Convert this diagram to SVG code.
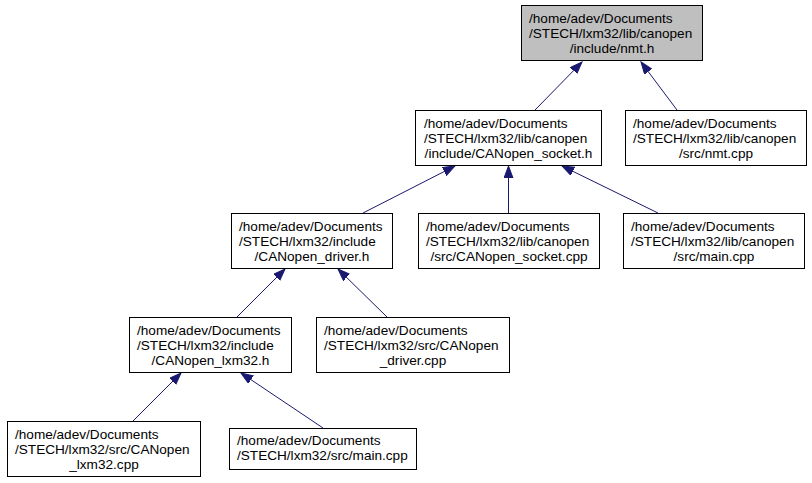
<svg xmlns="http://www.w3.org/2000/svg" width="812" height="483" viewBox="0 0 812 483">
<style>
.box{fill:#ffffff;stroke:#000000;stroke-width:1}
.root{fill:#bfbfbf}
text{font-family:"Liberation Sans",Arial,sans-serif;font-size:13.6px;fill:#000000}
.c{text-anchor:middle}
.edge{stroke:#191970;stroke-width:1;fill:none;marker-end:url(#ah)}
</style>
<defs>
<marker id="ah" markerWidth="13" markerHeight="10" refX="12" refY="4.5" orient="auto" markerUnits="userSpaceOnUse">
<path d="M0,0 L12,4.5 L0,9 z" fill="#191970" stroke="#191970" stroke-width="1"/>
</marker>
</defs>
<rect width="812" height="483" fill="#ffffff"/>
<g id="connectors">
<line class="edge" x1="535" y1="110" x2="582" y2="62"/>
<line class="edge" x1="677" y1="110" x2="641" y2="62"/>
<line class="edge" x1="363" y1="213" x2="455" y2="166"/>
<line class="edge" x1="508.5" y1="213" x2="508.5" y2="166"/>
<line class="edge" x1="658" y1="213" x2="562" y2="166"/>
<line class="edge" x1="237" y1="317" x2="285" y2="269"/>
<line class="edge" x1="387" y1="317" x2="338" y2="269"/>
<line class="edge" x1="133" y1="421" x2="181" y2="373"/>
<line class="edge" x1="323" y1="428" x2="241" y2="373"/>
</g>
<g id="n0">
<rect class="box root" x="521.5" y="5.5" width="181" height="55"/>
<text x="529" y="22.5">/home/adev/Documents</text>
<text x="529" y="37.5">/STECH/lxm32/lib/canopen</text>
<text class="c" x="612" y="52.5">/include/nmt.h</text>
</g>
<g id="n1">
<rect class="box" x="415.5" y="110.5" width="186" height="55"/>
<text x="424" y="127.5">/home/adev/Documents</text>
<text x="424" y="142.5">/STECH/lxm32/lib/canopen</text>
<text class="c" x="508.5" y="157.5">/include/CANopen_socket.h</text>
</g>
<g id="n2">
<rect class="box" x="625.5" y="110.5" width="181" height="55"/>
<text x="633" y="127.5">/home/adev/Documents</text>
<text x="633" y="142.5">/STECH/lxm32/lib/canopen</text>
<text class="c" x="716" y="157.5">/src/nmt.cpp</text>
</g>
<g id="n3">
<rect class="box" x="231.5" y="213.5" width="161" height="55"/>
<text x="239" y="230.5">/home/adev/Documents</text>
<text x="239" y="245.5">/STECH/lxm32/include</text>
<text class="c" x="312" y="260.5">/CANopen_driver.h</text>
</g>
<g id="n4">
<rect class="box" x="418.5" y="213.5" width="181" height="55"/>
<text x="426" y="230.5">/home/adev/Documents</text>
<text x="426" y="245.5">/STECH/lxm32/lib/canopen</text>
<text class="c" x="509" y="260.5">/src/CANopen_socket.cpp</text>
</g>
<g id="n5">
<rect class="box" x="623.5" y="213.5" width="181" height="55"/>
<text x="631" y="230.5">/home/adev/Documents</text>
<text x="631" y="245.5">/STECH/lxm32/lib/canopen</text>
<text class="c" x="714" y="260.5">/src/main.cpp</text>
</g>
<g id="n6">
<rect class="box" x="129.5" y="317.5" width="162" height="55"/>
<text x="137" y="334.5">/home/adev/Documents</text>
<text x="137" y="349.5">/STECH/lxm32/include</text>
<text class="c" x="210.5" y="364.5">/CANopen_lxm32.h</text>
</g>
<g id="n7">
<rect class="box" x="316.5" y="317.5" width="193" height="55"/>
<text x="324" y="334.5">/home/adev/Documents</text>
<text x="324" y="349.5">/STECH/lxm32/src/CANopen</text>
<text class="c" x="413" y="364.5">_driver.cpp</text>
</g>
<g id="n8">
<rect class="box" x="7.5" y="421.5" width="193" height="55"/>
<text x="15" y="438.5">/home/adev/Documents</text>
<text x="15" y="453.5">/STECH/lxm32/src/CANopen</text>
<text class="c" x="104" y="468.5">_lxm32.cpp</text>
</g>
<g id="n9">
<rect class="box" x="229.5" y="428.5" width="187" height="41"/>
<text x="237" y="445">/home/adev/Documents</text>
<text x="237" y="460">/STECH/lxm32/src/main.cpp</text>
</g>
</svg>
